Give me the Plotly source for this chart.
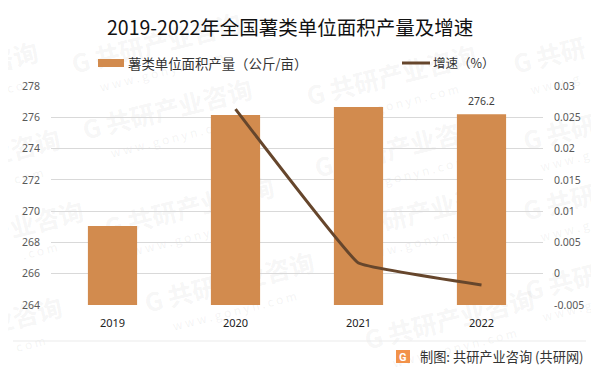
import plotly.graph_objects as go

years = ["2019", "2020", "2021", "2022"]
yield_values = [269.05, 276.15, 276.66, 276.2]
growth_years = ["2020", "2021", "2022"]
growth_values = [0.0263, 0.0017, -0.0018]
left_ticks = [264, 266, 268, 270, 272, 274, 276, 278]
right_ticks = [-0.005, 0, 0.005, 0.01, 0.015, 0.02, 0.025, 0.03]
right_labels = ["-0.005", "0", "0.005", "0.01", "0.015", "0.02", "0.025", "0.03"]
bar_name = "薯类单位面积产量（公斤/亩）"
line_name = "增速（%）"
labelled_year = "2022"
labelled_value = 276.2

W, H = 591, 363
FONT = "Noto Sans CJK SC"
BAR = "#D28B4E"
LINE = "#66462C"

fig = go.Figure()
fig.add_trace(go.Bar(
    x=years, y=yield_values, name=bar_name,
    marker=dict(color=BAR, line=dict(width=0)), width=0.4,
))
fig.add_trace(go.Scatter(
    x=growth_years, y=growth_values, name=line_name, yaxis="y2", mode="lines",
    line=dict(color=LINE, width=3, shape="spline", smoothing=0.2),
))

def px(x):
    return (x - 51) / (543 - 51)
def py(y):
    return (305 - y) / (305 - 86)

def label(x, y, text, size, color, xanchor="center", family=FONT):
    return dict(x=px(x), y=py(y), xref="paper", yref="paper", xanchor=xanchor, yanchor="middle",
                text=text, showarrow=False, font=dict(size=size, color=color, family=family))

def mark(x, y, text, size, color):
    return dict(type="rect", xref="paper", yref="paper", x0=px(x - 4), x1=px(x + 4),
                y0=py(y - 4), y1=py(y + 4), fillcolor="rgba(0,0,0,0)", line=dict(width=0),
                layer="below",
                label=dict(text=text, textangle=-14, textposition="middle center",
                           font=dict(size=size, color=color, family=FONT)))

FULL = "<b>G 共研产业咨询</b>"
WWW = "w w w . g o n y n . c o m"
wm = [(157, 46, FULL, WWW), (392, 78, FULL, WWW), (168, 112, FULL, WWW), (400, 150, FULL, WWW),
      (190, 210, FULL, WWW), (420, 215, FULL, WWW), (230, 285, FULL, WWW), (450, 322, FULL, WWW),
      (26, 318, "<b>业咨询</b>", "c o m"),
      (550, 58, "<b>G 共研</b>", "w w w . g"), (560, 135, "<b>G 共研</b>", "w w w . g"),
      (560, 205, "<b>G 共研</b>", "w w w . g"), (562, 285, "<b>G 共研</b>", "w w w . g"),
      (14, 60, "<b>咨询</b>", ". c o m"), (24, 150, "<b>业咨询</b>", "c o m"), (35, 225, "<b>产业咨询</b>", ". c o m")]

shapes = []
for x, y, t, u in wm:
    shapes.append(mark(x, y, t, 25, "rgba(130,130,130,0.085)"))
    shapes.append(mark(x + 5, y + 27, u, 12, "rgba(130,130,130,0.10)"))

annotations = [
    label(290, 26, "2019-2022年全国薯类单位面积产量及增速", 19.5, "#111111"),
    label(126, 63, bar_name, 13.4, "#333333", xanchor="left"),
    label(431, 63, line_name, 12.5, "#333333", xanchor="left"),
    label(586, 356, "制图: 共研产业咨询 (共研网)", 13.2, "#333333", xanchor="right"),
    label(403, 357, "<b>G</b>", 11, "#FFFFFF", family="Roboto"),
    dict(x=years.index(labelled_year), y=labelled_value, xref="x", yref="y", yanchor="middle",
         text=str(labelled_value), showarrow=False, yshift=13,
         font=dict(size=10.5, color="#404040", family="Noto Sans")),
]

shapes += [
    dict(type="line", xref="paper", yref="paper", x0=px(13), x1=px(586), y0=py(341), y1=py(341),
         line=dict(color="#EBEBEB", width=1)),
    dict(type="rect", xref="paper", yref="paper", x0=px(396), x1=px(410), y0=py(350), y1=py(363),
         fillcolor="#F2924A", line=dict(width=0)),
    dict(type="rect", xref="paper", yref="paper", x0=px(98), x1=px(124), y0=py(59), y1=py(67),
         fillcolor=BAR, line=dict(width=0)),
    dict(type="line", xref="paper", yref="paper", x0=px(402), x1=px(430), y0=py(63), y1=py(63),
         line=dict(color=LINE, width=3)),
]

fig.update_layout(
    width=W, height=H, autosize=False,
    margin=dict(l=43, r=56, t=78, b=66),
    paper_bgcolor="#FFFFFF", plot_bgcolor="rgba(0,0,0,0)",
    font=dict(family=FONT, size=10.5, color="#595959"),
    showlegend=False,
    xaxis=dict(type="category", categoryorder="array", categoryarray=years, showgrid=False,
               range=[-0.5, 3.5],
               showline=False, ticks="", tickfont=dict(size=11, color="#222222", family="Noto Sans"),
               ticklabelstandoff=10),
    yaxis=dict(range=[264, 278], tickmode="array", tickvals=left_ticks, showgrid=True,
               gridcolor="#D9D9D9", gridwidth=1, zeroline=False, ticks="", showline=False,
               tickfont=dict(size=10.5, color="#595959", family="Noto Sans"), ticklabelstandoff=10),
    yaxis2=dict(range=[-0.005, 0.03], overlaying="y", side="right", tickmode="array",
                tickvals=right_ticks, ticktext=right_labels, showgrid=False, zeroline=False,
                ticks="", showline=False, ticklabelstandoff=10,
                tickfont=dict(size=10.5, color="#595959", family="Noto Sans")),
    annotations=annotations, shapes=shapes,
)
fig.write_html("out.html")
